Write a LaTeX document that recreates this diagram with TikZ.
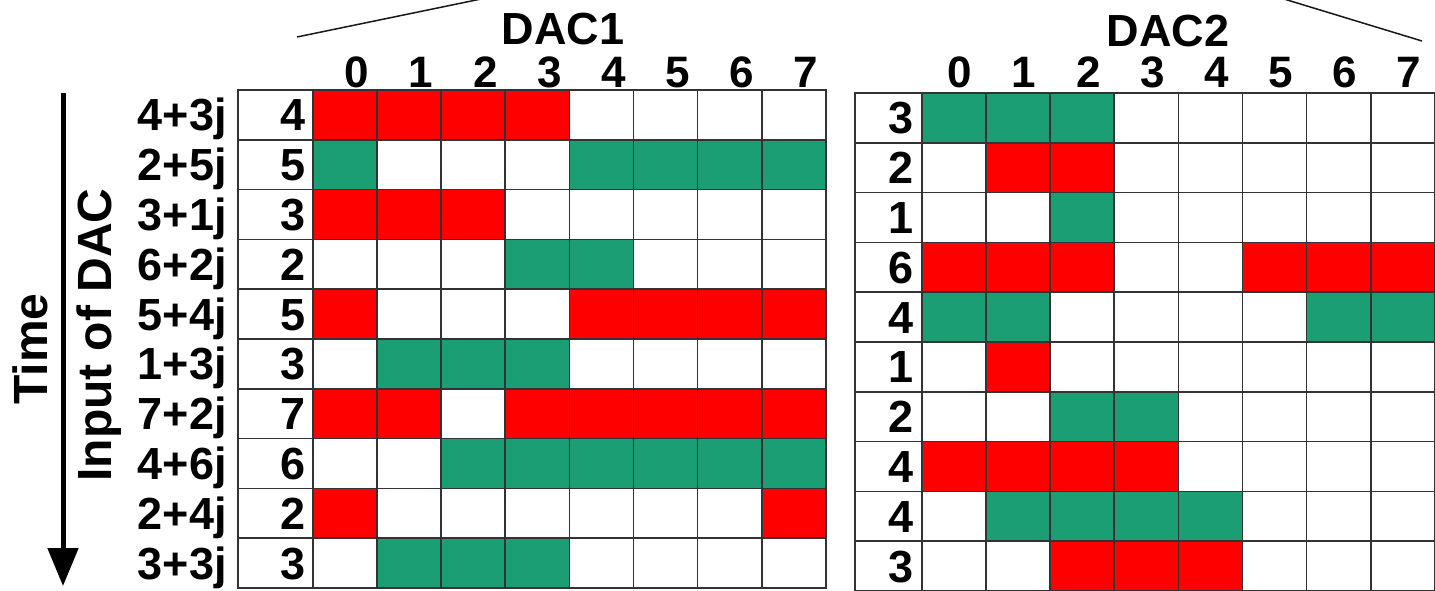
\documentclass[tikz,border=0pt]{standalone}
\usepackage{fontspec}
\setmainfont{Liberation Sans}
\usetikzlibrary{arrows.meta}
\definecolor{cR}{HTML}{FF0000}
\definecolor{cG}{HTML}{1B9E73}
\definecolor{cW}{HTML}{FFFFFF}
\begin{document}
\begin{tikzpicture}[x=1pt,y=-1pt,
  lbl/.style={font=\fontsize{45}{45}\selectfont\bfseries, inner sep=0pt},
  hlbl/.style={font=\fontsize{44}{44}\selectfont\bfseries, inner sep=0pt},
  vlbl/.style={font=\fontsize{48}{48}\selectfont\bfseries, inner sep=0pt, rotate=90, anchor=north},
  gridline/.style={line width=1.7pt, draw=black!80},
  thinline/.style={line width=1.5pt, draw=black!90}]
\useasboundingbox (0,0) rectangle (1435,590);
\fill[white] (0,0) rectangle (1435,590);

% ---------- DAC1 ----------
\foreach \row [count=\r from 0] in {
  {cR,cR,cR,cR,cW,cW,cW,cW},
  {cG,cW,cW,cW,cG,cG,cG,cG},
  {cR,cR,cR,cW,cW,cW,cW,cW},
  {cW,cW,cW,cG,cG,cW,cW,cW},
  {cR,cW,cW,cW,cR,cR,cR,cR},
  {cW,cG,cG,cG,cW,cW,cW,cW},
  {cR,cR,cW,cR,cR,cR,cR,cR},
  {cW,cW,cG,cG,cG,cG,cG,cG},
  {cR,cW,cW,cW,cW,cW,cW,cR},
  {cW,cG,cG,cG,cW,cW,cW,cW}}{
  \foreach \c [count=\k from 0] in \row {
    \fill[\c] ({313+\k*64.1},{90+\r*49.8}) rectangle ++(64.1,49.8);
  }
}
\draw[gridline] (238,90) rectangle (826,588);
\foreach \i in {1,...,9} \draw[gridline] (238,{90+\i*49.8}) -- (826,{90+\i*49.8});
\foreach \j in {0,...,7} \draw[gridline] ({313+\j*64.1},90) -- ({313+\j*64.1},588);

\foreach \z/\n [count=\r from 0] in {4+3j/4,2+5j/5,3+1j/3,6+2j/2,5+4j/5,1+3j/3,7+2j/7,4+6j/6,2+4j/2,3+3j/3}{
  \node[lbl, anchor=base east] (inA\r) at (227,{90+(\r+0.5)*49.8+16}) {\z};
  \node[lbl, anchor=base east] (nA\r) at (306,{90+(\r+0.5)*49.8+16}) {\n};
}
\foreach \j in {0,...,7}{
  \node[hlbl, anchor=base] (hA\j) at ({313+(\j+0.5)*64.1+12},87) {\j};
}
\node[lbl, anchor=base] (dacA) at (563,44) {DAC1};
\coordinate (lA1) at (297,37);
\coordinate (lA2) at (481,-1);
\draw[thinline] (lA1) -- (lA2);

% ---------- DAC2 ----------
\foreach \row [count=\r from 0] in {
  {cG,cG,cG,cW,cW,cW,cW,cW},
  {cW,cR,cR,cW,cW,cW,cW,cW},
  {cW,cW,cG,cW,cW,cW,cW,cW},
  {cR,cR,cR,cW,cW,cR,cR,cR},
  {cG,cG,cW,cW,cW,cW,cG,cG},
  {cW,cR,cW,cW,cW,cW,cW,cW},
  {cW,cW,cG,cG,cW,cW,cW,cW},
  {cR,cR,cR,cR,cW,cW,cW,cW},
  {cW,cG,cG,cG,cG,cW,cW,cW},
  {cW,cW,cR,cR,cR,cW,cW,cW}}{
  \foreach \c [count=\k from 0] in \row {
    \fill[\c] ({922+\k*64.1},{93+\r*49.8}) rectangle ++(64.1,49.8);
  }
}
\draw[gridline] (855,93) rectangle (1435,591);
\foreach \i in {1,...,9} \draw[gridline] (855,{93+\i*49.8}) -- (1435,{93+\i*49.8});
\foreach \j in {0,...,7} \draw[gridline] ({922+\j*64.1},93) -- ({922+\j*64.1},591);

\foreach \n [count=\r from 0] in {3,2,1,6,4,1,2,4,4,3}{
  \node[lbl, anchor=base east] (nB\r) at (914,{93+(\r+0.5)*49.8+16}) {\n};
}
\foreach \j in {0,...,7}{
  \node[hlbl, anchor=base] (hB\j) at ({922+(\j+0.5)*64.1+6},87) {\j};
}
\node[lbl, anchor=base] (dacB) at (1168,46) {DAC2};
\coordinate (lB1) at (1284,-1);
\coordinate (lB2) at (1422,41);
\draw[thinline] (lB1) -- (lB2);

% ---------- axis labels ----------
\coordinate (tA) at (63,93);
\coordinate (tB) at (63,586);
\draw[line width=5pt, -{Triangle[length=38pt,width=30pt]}] (tA) -- (tB);
\node[vlbl] (time) at (13,349) {Time};
\node[vlbl] (inp) at (77,335) {Input of DAC};
\end{tikzpicture}
\end{document}
